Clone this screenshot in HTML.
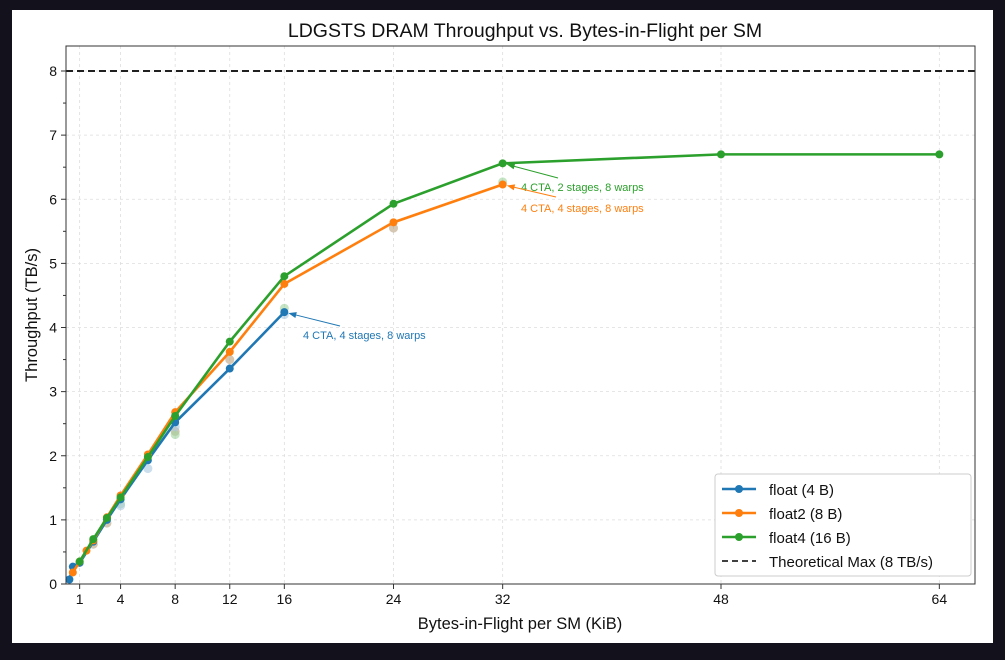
<!DOCTYPE html>
<html><head><meta charset="utf-8"><style>
body{margin:0;background:#12111c;width:1005px;height:660px;overflow:hidden;font-family:"Liberation Sans","DejaVu Sans",sans-serif}
#card{position:absolute;left:12px;top:10px;width:981px;height:633px;background:#fff}
svg{position:absolute;left:0;top:0}
</style></head><body>
<div id="card"></div>
<svg id="chart" width="1005" height="660"></svg>
<script>
const xTicks=[1,4,8,12,16,24,32,48,64];
const yTicks=[0,1,2,3,4,5,6,7,8];
const floatX=[0.25,0.5,1,2,3,4,6,8,12,16];
const floatY=[0.07,0.27,0.33,0.66,1.0,1.32,1.93,2.52,3.36,4.24];
const float2X=[0.5,1,1.5,2,3,4,6,8,12,16,24,32];
const float2Y=[0.18,0.35,0.52,0.68,1.04,1.38,2.02,2.68,3.62,4.68,5.64,6.23];
const float4X=[1,2,3,4,6,8,12,16,24,32,48,64];
const float4Y=[0.35,0.7,1.03,1.35,1.98,2.62,3.78,4.8,5.93,6.56,6.7,6.7];
const faintX=[3,4,6,8,8,8,12,16,16,24,32,4,2];
const faintY=[0.95,1.25,1.8,2.38,2.33,2.45,3.5,4.3,4.2,5.55,6.27,1.22,0.62];
const theoreticalMax=8;
const X0=66,X1=975,Y0=584,Y1=46;
const xs=v=>X0+v*(940-285)/48;
const ys=v=>Y0-v*(584-71)/8;
const svg=document.getElementById('chart');
const NS='http://www.w3.org/2000/svg';
function mk(t,a,p){const e=document.createElementNS(NS,t);for(const k in a)e.setAttribute(k,a[k]);(p||svg).appendChild(e);return e;}
xTicks.forEach(v=>{const l=mk('line',{x1:xs(v),x2:xs(v),y1:Y1,y2:Y0,stroke:'#ddd','stroke-dasharray':'3,3','stroke-width':0.8});
});
yTicks.forEach(v=>{const l=mk('line',{x1:X0,x2:X1,y1:ys(v),y2:ys(v),stroke:'#ddd','stroke-dasharray':'3,3','stroke-width':0.8});
});
const tm=mk('line',{x1:X0,x2:X1,y1:ys(theoreticalMax),y2:ys(theoreticalMax),stroke:'#000','stroke-width':1.8,'stroke-dasharray':'7,4'});

faintX.forEach((x,i)=>{const c=mk('circle',{cx:xs(x),cy:ys(faintY[i]),r:4.5,fill:['#b9a27f','#9fd39f','#a9c8e0'][i%3],opacity:0.6});
});
function series(X,Y,col,name){
  const g=mk('g',{});
  const p=mk('polyline',{points:X.map((x,i)=>xs(x)+','+ys(Y[i])).join(' '),fill:'none',stroke:col,'stroke-width':2.6},g);
  
  X.forEach((x,i)=>{const c=mk('circle',{cx:xs(x),cy:ys(Y[i]),r:4,fill:col},g);
  });
}
series(floatX,floatY,'#1f77b4','float');
series(float2X,float2Y,'#ff7f0e','float2');
series(float4X,float4Y,'#2ca02c','float4');
const ax=mk('rect',{x:X0,y:Y1,width:X1-X0,height:Y0-Y1,fill:'none',stroke:'#333','stroke-width':1});

xTicks.forEach(v=>{mk('line',{x1:xs(v),x2:xs(v),y1:Y0,y2:Y0+5,stroke:'#333'});
const t=mk('text',{x:xs(v),y:Y0+20,'text-anchor':'middle','font-size':14,fill:'#111'});t.textContent=v;
});
yTicks.forEach(v=>{mk('line',{x1:X0-5,x2:X0,y1:ys(v),y2:ys(v),stroke:'#333'});
if(v<8)mk('line',{x1:X0-3,x2:X0,y1:ys(v+0.5),y2:ys(v+0.5),stroke:'#333'});
const t=mk('text',{x:X0-9,y:ys(v)+5,'text-anchor':'end','font-size':14,fill:'#111'});t.textContent=v;
});
function txt(s,a,name){const t=mk('text',a);t.textContent=s;return t;}
txt('LDGSTS DRAM Throughput vs. Bytes-in-Flight per SM',{x:525,y:37,'text-anchor':'middle','font-size':19.5,fill:'#111'},'chart-title');
txt('Bytes-in-Flight per SM (KiB)',{x:520,y:629,'text-anchor':'middle','font-size':16.5,fill:'#111'},'x-axis-title');
txt('Throughput (TB/s)',{x:37,y:315,'text-anchor':'middle','font-size':16.5,fill:'#111',transform:'rotate(-90 37 315)'},'y-axis-title');
function ann(x,y,tx,ty,sx,sy,s,col,name){
  const px=xs(x)+4,py=ys(y)+1;
  const dx=sx-px,dy=sy-py,L=Math.hypot(dx,dy),ux=dx/L,uy=dy/L;
  mk('line',{x1:sx,y1:sy,x2:px+ux*6,y2:py+uy*6,stroke:col,'stroke-width':1});
  mk('path',{d:`M${px},${py} L${px+ux*8-uy*3},${py+uy*8+ux*3} L${px+ux*8+uy*3},${py+uy*8-ux*3}Z`,fill:col});
  txt(s,{x:tx,y:ty,'font-size':11,fill:col},name);}
ann(16,4.24,303,339,340,326,'4 CTA, 4 stages, 8 warps','#1f77b4','float-annotation');
ann(32,6.56,521,191,558,178,'4 CTA, 2 stages, 8 warps','#2ca02c','float4-annotation');
ann(32,6.23,521,212,556,197,'4 CTA, 4 stages, 8 warps','#ff7f0e','float2-annotation');
const lg=mk('g',{});
mk('rect',{x:715,y:474,width:256,height:102,rx:3,fill:'#fff',stroke:'#ccc'},lg);
const L=[['float (4 B)','#1f77b4',0],['float2 (8 B)','#ff7f0e',0],['float4 (16 B)','#2ca02c',0],['Theoretical Max (8 TB/s)','#000',1]];
L.forEach((e,i)=>{const y=489+i*24;
mk('line',{x1:722,x2:756,y1:y,y2:y,stroke:e[1],'stroke-width':e[2]?1.6:2.6,'stroke-dasharray':e[2]?'6,4':'none'},lg);
if(!e[2])mk('circle',{cx:739,cy:y,r:4,fill:e[1]},lg);
const t=mk('text',{x:769,y:y+6,'font-size':15,fill:'#111'},lg);t.textContent=e[0];
});
</script>
</body></html>
